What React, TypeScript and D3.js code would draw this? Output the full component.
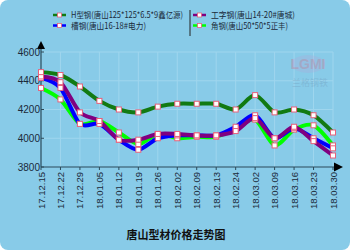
import React from "react";
import * as d3 from "d3";

const categories = ["17.12.15","17.12.22","17.12.29","18.01.05","18.01.12","18.01.19","18.01.26","18.02.02","18.02.09","18.02.13","18.02.24","18.03.02","18.03.09","18.03.16","18.03.23","18.03.30"];
const hBeam = [4460,4440,4360,4260,4200,4180,4220,4240,4240,4240,4200,4300,4180,4200,4160,4040];
const iBeam = [4430,4390,4180,4120,3990,3990,4030,4030,4020,4020,4050,4140,4000,4080,3980,3880];
const channel = [4420,4350,4100,4100,3990,3920,4000,4020,4020,4020,4080,4160,4000,4070,4000,3930];
const angle = [4350,4270,4100,4120,4040,3960,4030,4000,4010,4010,4070,4130,3950,4060,4090,3950];
const yTicks = [3800,4000,4200,4400,4600];

const seriesNames = ["H型钢(唐山125*125*6.5*9鑫亿源)","槽钢(唐山16-18#电力)","工字钢(唐山14-20#唐城)","角钢(唐山50*50*5正丰)"];
const seriesColors = ["#127a12","#0000ff","#800080","#00ff00"];
const title = "唐山型材价格走势图";

export default function App() {
  const W = 350, H = 250;
  const x = d3.scalePoint<string>().domain(categories).range([41, 333]);
  const y = d3.scaleLinear().domain([3800, 4600]).range([167, 52]);
  const line = d3.line<number>()
    .x((_, i) => x(categories[i]) as number)
    .y((d) => y(d))
    .curve(d3.curveCardinal.tension(0.2));
  const series = [
    { name: seriesNames[3], color: seriesColors[3], data: angle },
    { name: seriesNames[1], color: seriesColors[1], data: channel },
    { name: seriesNames[2], color: seriesColors[2], data: iBeam },
    { name: seriesNames[0], color: seriesColors[0], data: hBeam },
  ];
  const font = "Arial, 'Liberation Sans', 'Noto Sans CJK SC', sans-serif";
  const legend = [
    { name: seriesNames[0], color: seriesColors[0], x: 53, y: 15, w: 112 },
    { name: seriesNames[1], color: seriesColors[1], x: 53, y: 25.5, w: 75 },
    { name: seriesNames[2], color: seriesColors[2], x: 193, y: 15, w: 84 },
    { name: seriesNames[3], color: seriesColors[3], x: 193, y: 25.5, w: 77 },
  ];
  return (
    <svg width={W} height={H} style={{ position: "absolute", left: 0, top: 0 }}>
      <rect x={0} y={0} width={W} height={H} rx={8} fill="#88cbe8" />
      {categories.map((c, i) => i > 0 && (
        <line key={"gv" + c} x1={x(c)} x2={x(c)} y1={52} y2={167} stroke="#9fd6ee" strokeWidth={1} />
      ))}
      {yTicks.slice(1).map((t) => (
        <line key={"gh" + t} x1={41} x2={333} y1={y(t)} y2={y(t)} stroke="#9fd6ee" strokeWidth={1} />
      ))}
      <g opacity={0.3}>
        <ellipse cx={308} cy={64} rx={17} ry={9} fill="#b0a8d8" />
        <text x={308} y={69} textAnchor="middle" fontFamily={font} fontSize={14} fontWeight="bold" fill="#e05a7a">LGMI</text>
        <text x={310} y={86} textAnchor="middle" fontFamily="'Noto Sans CJK SC', sans-serif" fontSize={9} fill="#6a8fb0">兰格钢铁</text>
      </g>
      <line x1={41} x2={41} y1={46} y2={167} stroke="#2a4a5a" strokeWidth={1.2} />
      <path d="M37,49 L41,41 L45,49 Z" fill="#000" />
      <line x1={41} x2={338} y1={167} y2={167} stroke="#2a4a5a" strokeWidth={1.2} />
      <path d="M334,162.5 L343,167 L334,171.5 Z" fill="#000" />
      {yTicks.map((t) => (
        <g key={"yt" + t}>
          <line x1={41} x2={44} y1={y(t)} y2={y(t)} stroke="#2a4a5a" />
          <text x={40} y={y(t) + 3.5} textAnchor="end" fontFamily={font} fontSize={10} fill="#1a2a3a">{t}</text>
        </g>
      ))}
      {categories.map((c) => (
        <g key={"xt" + c}>
          <line x1={x(c)} x2={x(c)} y1={167} y2={170} stroke="#2a4a5a" />
          <text transform={`translate(${(x(c) as number) + 3.5},172) rotate(-90)`} textAnchor="end" fontFamily={font} fontSize={9.5} fill="#1a2a3a">{c}</text>
        </g>
      ))}
      {series.map((s) => (
        <path key={"l" + s.name} d={line(s.data) || ""} fill="none" stroke={s.color} strokeWidth={4} strokeLinejoin="round" />
      ))}
      {series.map((s) => (
        <g key={"m" + s.name}>
          {s.data.map((v, i) => (
            <rect key={i} x={(x(categories[i]) as number) - 2.5} y={y(v) - 2.5} width={5} height={5} fill="#fff" stroke="#e8607a" strokeWidth={1} />
          ))}
        </g>
      ))}
      <line x1={190} x2={190} y1={10} y2={36} stroke="#222" strokeWidth={1} />
      {legend.map((l) => (
        <g key={"lg" + l.name}>
          <line x1={l.x} x2={l.x + 13} y1={l.y} y2={l.y} stroke={l.color} strokeWidth={2.5} />
          <rect x={l.x + 4.5} y={l.y - 2} width={4} height={4} fill="#fff" stroke="#e8607a" strokeWidth={0.8} />
          <text x={l.x + 18} y={l.y + 3} fontFamily="'Noto Sans CJK SC', sans-serif" fontSize={8.5} fill="#1a2a3a" textLength={l.w} lengthAdjust="spacingAndGlyphs">{l.name}</text>
        </g>
      ))}
      <text x={176} y={239} textAnchor="middle" fontFamily="'Noto Sans CJK SC', sans-serif" fontSize={11} fontWeight="bold" fill="#111">{title}</text>
    </svg>
  );
}
